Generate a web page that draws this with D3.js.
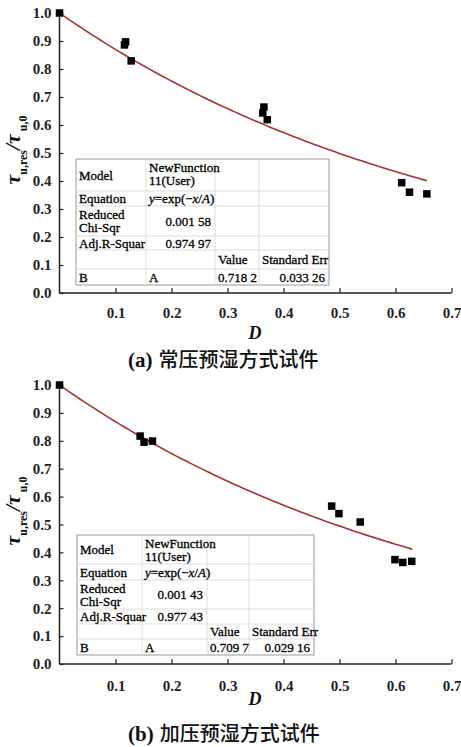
<!DOCTYPE html>
<html>
<head>
<meta charset="utf-8">
<script src="https://cdn.jsdelivr.net/npm/d3@7/dist/d3.min.js"></script>
<style>
  body { margin: 0; background: #fff; }
  svg { display: block; }
  .tick text { font-family: 'Liberation Serif', serif; font-weight: bold; font-size: 15px; fill: #222; }
  .cell { font-family: 'Liberation Serif', serif; font-size: 13px; fill: #000; stroke: #000; stroke-width: 0.3; }
  .caption { font-size: 20px; fill: #111; }
</style>
</head>
<body>
<svg width="461" height="747"></svg>
<script>
const svg = d3.select('svg');

// tick values
const xTicks = [0.1, 0.2, 0.3, 0.4, 0.5, 0.6, 0.7];
const yTicks = [0, 0.1, 0.2, 0.3, 0.4, 0.5, 0.6, 0.7, 0.8, 0.9, 1.0];

// panel (a) measured points
const xA = [0, 0.118, 0.116, 0.128, 0.365, 0.363, 0.371, 0.611, 0.625, 0.656];
const yA = [1.0, 0.897, 0.886, 0.829, 0.664, 0.643, 0.619, 0.394, 0.360, 0.354];
const fitA = 0.7182;
const fitEndA = 0.656;

// panel (b) measured points
const xB = [0, 0.144, 0.151, 0.166, 0.486, 0.499, 0.537, 0.599, 0.613, 0.629];
const yB = [1.0, 0.817, 0.795, 0.799, 0.566, 0.539, 0.509, 0.374, 0.364, 0.368];
const fitB = 0.7097;
const fitEndB = 0.630;

// fit tables
const tableA = [
  ['Model', 'NewFunction\n11(User)', '', ''],
  ['Equation', 'y=exp(−x/A)', '', ''],
  ['Reduced\nChi-Sqr', '0.001 58', '', ''],
  ['Adj.R-Squar', '0.974 97', '', ''],
  ['', '', 'Value', 'Standard Err'],
  ['B', 'A', '0.718 2', '0.033 26']
];
const tableB = [
  ['Model', 'NewFunction\n11(User)', '', ''],
  ['Equation', 'y=exp(−x/A)', '', ''],
  ['Reduced\nChi-Sqr', '0.001 43', '', ''],
  ['Adj.R-Squar', '0.977 43', '', ''],
  ['', '', 'Value', 'Standard Err'],
  ['B', 'A', '0.709 7', '0.029 16']
];

const captionTags = ['(a)', '(b)'];
const captionTexts = ['常压预湿方式试件', '加压预湿方式试件'];

const panels = [
  { xs: xA, ys: yA, A: fitA, end: fitEndA, table: tableA, tag: captionTags[0], cap: captionTexts[0],
    top: 13, bottom: 293, labelMid: 150, dY: 46, capY: 367, pad: 14,
    cols: [76, 146, 215, 259, 329], rows: [159, 191, 206, 236, 250, 269, 285] },
  { xs: xB, ys: yB, A: fitB, end: fitEndB, table: tableB, tag: captionTags[1], cap: captionTexts[1],
    top: 385, bottom: 664, labelMid: 511, dY: 41, capY: 741, pad: 16,
    cols: [77, 142, 207, 249, 314], rows: [535, 564, 580, 609, 624, 639, 655] }
];

const left = 59.5, right = 451.5;

panels.forEach(p => {
  const x = d3.scaleLinear().domain([0, 0.7]).range([left, right]);
  const y = d3.scaleLinear().domain([0, 1]).range([p.bottom, p.top]);
  const g = svg.append('g');

  // fit result table
  const tg = g.append('g');
  tg.append('rect')
    .attr('x', p.cols[0]).attr('y', p.rows[0])
    .attr('width', p.cols[4] - p.cols[0]).attr('height', p.rows[6] - p.rows[0])
    .attr('fill', '#fff').attr('stroke', '#999').attr('stroke-width', 1);
  p.cols.slice(1, 4).forEach(c => {
    tg.append('line').attr('x1', c).attr('x2', c).attr('y1', p.rows[0]).attr('y2', p.rows[6])
      .attr('stroke', '#ddd');
  });
  p.rows.slice(1, 6).forEach(r => {
    tg.append('line').attr('x1', p.cols[0]).attr('x2', p.cols[4]).attr('y1', r).attr('y2', r)
      .attr('stroke', '#ddd');
  });
  p.table.forEach((row, i) => {
    row.forEach((txt, j) => {
      if (!txt) return;
      const lines = txt.split('\n');
      const rightAlign = (i === 2 || i === 3) && j === 1 || (i === 5 && j === 3);
      const cx = rightAlign ? p.cols[j + 1] - 4 : p.cols[j] + 3;
      const h = p.rows[i + 1] - p.rows[i];
      const top0 = lines.length > 1 ? p.rows[i] + 12.5 : p.rows[i] + h / 2 + 4.5;
      const t = tg.append('text').attr('class', 'cell')
        .attr('text-anchor', rightAlign ? 'end' : 'start');
      if (i === 1 && j === 1) {
        t.attr('x', cx).attr('y', top0);
        t.append('tspan').attr('font-style', 'italic').text('y');
        t.append('tspan').text('=exp(−');
        t.append('tspan').attr('font-style', 'italic').text('x');
        t.append('tspan').text('/');
        t.append('tspan').attr('font-style', 'italic').text('A');
        t.append('tspan').text(')');
        return;
      }
      lines.forEach((ln, k) => {
        t.append('tspan').attr('x', cx).attr('y', top0 + k * 13).text(ln);
      });
    });
  });

  // axes
  const xAxis = d3.axisBottom(x).tickValues(xTicks).tickSize(-5).tickPadding(p.pad)
    .tickFormat(d3.format('.1f'));
  const yAxis = d3.axisLeft(y).tickValues(yTicks).tickSize(-4).tickPadding(8)
    .tickFormat(d3.format('.1f'));

  const xg = g.append('g').attr('transform', `translate(0,${p.bottom})`).call(xAxis);
  const yg = g.append('g').attr('transform', `translate(${left},0)`).call(yAxis);
  xg.select('.domain').attr('d', `M${left},0H${right}`).attr('stroke', '#222').attr('stroke-width', 1.5);
  yg.select('.domain').attr('d', `M0,${p.top}V${p.bottom}`).attr('stroke', '#222').attr('stroke-width', 1.5);
  g.selectAll('.tick line').attr('stroke', '#222').attr('stroke-width', 1.2);

  // fitted curve y = exp(-x/A)
  const curve = d3.range(0, 101).map(i => {
    const xv = p.end * i / 100;
    return [xv, Math.exp(-xv / p.A)];
  });
  g.append('path')
    .attr('d', d3.line().x(d => x(d[0])).y(d => y(d[1]))(curve))
    .attr('fill', 'none').attr('stroke', '#a83232').attr('stroke-width', 1.6);

  // points
  const s = 7.5;
  g.selectAll('rect.pt').data(p.xs.map((d, i) => [d, p.ys[i]])).enter()
    .append('rect').attr('class', 'pt')
    .attr('x', d => x(d[0]) - s / 2).attr('y', d => y(d[1]) - s / 2)
    .attr('width', s).attr('height', s).attr('fill', '#000');

  // y label
  const yl = g.append('text')
    .attr('transform', `translate(20,${p.labelMid}) rotate(-90)`)
    .attr('text-anchor', 'middle')
    .attr('font-family', 'Liberation Serif, serif').attr('fill', '#111');
  yl.append('tspan').attr('font-size', 22).attr('font-style', 'italic').attr('font-weight', 'bold').text('τ');
  yl.append('tspan').attr('font-size', 12).attr('font-weight', 'bold').attr('dy', 7).text('u,res');
  yl.append('tspan').attr('font-size', 22).attr('font-style', 'italic').attr('font-weight', 'bold').attr('dy', -7).text('/');
  yl.append('tspan').attr('font-size', 22).attr('font-style', 'italic').attr('font-weight', 'bold').text('τ');
  yl.append('tspan').attr('font-size', 12).attr('font-weight', 'bold').attr('dy', 7).text(' u,0');

  // x label
  g.append('text')
    .attr('x', 255).attr('y', p.bottom + p.dY)
    .attr('text-anchor', 'middle')
    .attr('font-family', 'Liberation Serif, serif').attr('font-size', 18)
    .attr('font-style', 'italic').attr('font-weight', 'bold').attr('fill', '#111')
    .text('D');

  // caption
  const cap = g.append('text').attr('class', 'caption')
    .attr('x', 128).attr('y', p.capY);
  cap.append('tspan').attr('font-family', 'Liberation Serif, serif').attr('font-weight', 'bold').attr('font-size', 21).text(p.tag);
  cap.append('tspan').attr('font-family', 'Noto Sans CJK SC').attr('font-weight', 500).attr('dx', 6).text(p.cap);
});
</script>
</body>
</html>
